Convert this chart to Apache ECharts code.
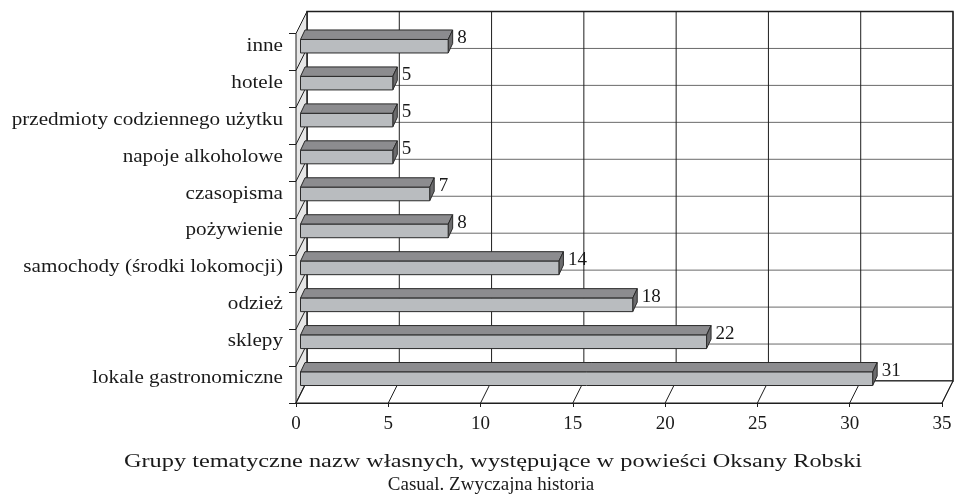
<!DOCTYPE html>
<html>
<head>
<meta charset="utf-8">
<script src="https://cdn.jsdelivr.net/npm/echarts@6/dist/echarts.min.js"></script>
<style>
  html, body { margin: 0; padding: 0; background: #fff; }
  #chart { width: 956px; height: 497px; }
</style>
</head>
<body>
<div id="chart"></div>
<script>
var categories = [
    'lokale gastronomiczne',
    'sklepy',
    'odzież',
    'samochody (środki lokomocji)',
    'pożywienie',
    'czasopisma',
    'napoje alkoholowe',
    'przedmioty codziennego użytku',
    'hotele',
    'inne'
];
var counts = [31, 22, 18, 14, 8, 7, 5, 5, 5, 8];
var xTicks = [0, 5, 10, 15, 20, 25, 30, 35];
var titleLines = [
    'Grupy tematyczne nazw własnych, występujące w powieści Oksany Robski',
    'Casual. Zwyczajna historia'
];

var FONT = '"Liberation Serif", "DejaVu Serif", serif';
// 3d depth of the whole plot (back wall offset) and of a bar
var DX = 11, DY = -22;
var BX = 4.5, BY = -9.5;
var LINE = '#1e1e1e';
var TEXT = '#1a1a1a';

var chart = echarts.init(document.getElementById('chart'));

function renderWalls(params, api) {
    var x0 = api.coord([0, 0])[0];
    var x1 = api.coord([35, 0])[0];
    var band = api.size([0, 1])[1];
    var yBot = api.coord([0, 0])[1] + band / 2;
    var yTop = api.coord([0, categories.length - 1])[1] - band / 2;
    var kids = [];
    var ln = { stroke: LINE, lineWidth: 1 };

    // back wall
    kids.push({ type: 'rect', shape: { x: x0 + DX, y: yTop + DY, width: x1 - x0, height: yBot - yTop },
        style: { fill: '#fff', stroke: LINE, lineWidth: 1.3 } });
    // left side wall
    kids.push({ type: 'polygon', shape: { points: [[x0, yTop], [x0 + DX, yTop + DY], [x0 + DX, yBot + DY], [x0, yBot]] },
        style: { fill: '#e6e6e6', stroke: LINE, lineWidth: 1 } });
    // floor
    kids.push({ type: 'polygon', shape: { points: [[x0, yBot], [x0 + DX, yBot + DY], [x1 + DX, yBot + DY], [x1, yBot]] },
        style: { fill: '#fff', stroke: LINE, lineWidth: 1 } });

    // horizontal grid on the back wall + diagonals on the side wall
    for (var i = 1; i < categories.length; i++) {
        var yb = yBot - i * band;
        kids.push({ type: 'line', shape: { x1: x0 + DX, y1: yb + DY, x2: x1 + DX, y2: yb + DY },
            style: { stroke: '#6a6a6a', lineWidth: 1 } });
        kids.push({ type: 'line', shape: { x1: x0, y1: yb, x2: x0 + DX, y2: yb + DY }, style: ln });
    }
    // vertical grid on the back wall + diagonals on the floor
    xTicks.forEach(function (v) {
        var x = api.coord([v, 0])[0];
        kids.push({ type: 'line', shape: { x1: x + DX, y1: yTop + DY, x2: x + DX, y2: yBot + DY }, style: ln });
        kids.push({ type: 'line', shape: { x1: x, y1: yBot, x2: x + DX, y2: yBot + DY }, style: ln });
    });

    // category labels (the scan is stretched sideways)
    categories.forEach(function (name, i) {
        var c = api.coord([0, i]);
        kids.push({ type: 'text', x: x0 - 13, y: c[1] - 6, scaleX: 1.175,
            style: { text: name, font: '18px ' + FONT, fill: TEXT, align: 'right', verticalAlign: 'middle' } });
    });
    return { type: 'group', children: kids };
}

function renderBar(params, api) {
    var v = api.value(0);
    var c = api.value(1);
    var s = api.coord([0, c]);
    var e = api.coord([v, c]);
    var fx0 = s[0] + 4.5, fx1 = e[0] + 4.5;
    var fy0 = s[1] - 12.5, fy1 = s[1] + 1;
    var edge = { stroke: '#2a2a2a', lineWidth: 1 };
    return {
        type: 'group',
        children: [
            { type: 'polygon', shape: { points: [[fx0, fy0], [fx0 + BX, fy0 + BY], [fx1 + BX, fy0 + BY], [fx1, fy0]] },
                style: Object.assign({ fill: '#8c8c8f' }, edge) },
            { type: 'polygon', shape: { points: [[fx1, fy0], [fx1 + BX, fy0 + BY], [fx1 + BX, fy1 + BY], [fx1, fy1]] },
                style: Object.assign({ fill: '#6b6b6d' }, edge) },
            { type: 'rect', shape: { x: fx0, y: fy0, width: fx1 - fx0, height: fy1 - fy0 },
                style: Object.assign({ fill: '#b9bcbf' }, edge) },
            { type: 'text', x: fx1 + BX + 4.5, y: s[1] - 14,
                style: { text: String(v), font: '19px ' + FONT, fill: TEXT, verticalAlign: 'middle' } }
        ]
    };
}

var barData = counts.map(function (v, i) { return [v, i]; });

var option = {
    animation: false,
    grid: { left: 296, right: 14, top: 33.5, bottom: 94, containLabel: false },
    xAxis: {
        type: 'value', min: 0, max: 35, interval: 5,
        axisLine: { show: true, lineStyle: { color: LINE } },
        axisTick: { show: true, length: 4, lineStyle: { color: LINE } },
        splitLine: { show: false },
        axisLabel: { fontFamily: FONT, fontSize: 19, color: TEXT, margin: 12 }
    },
    yAxis: {
        type: 'category', data: categories,
        axisLine: { show: true, lineStyle: { color: LINE } },
        axisTick: { show: true, length: 7, lineStyle: { color: LINE } },
        axisLabel: { show: false }
    },
    graphic: [
        { type: 'text', x: 493, y: 462, scaleX: 1.28,
            style: { text: titleLines[0], font: '19px ' + FONT, fill: TEXT, align: 'center', verticalAlign: 'middle' } },
        { type: 'text', x: 491, y: 485,
            style: { text: titleLines[1], font: '19px ' + FONT, fill: TEXT, align: 'center', verticalAlign: 'middle' } }
    ],
    series: [
        { type: 'custom', renderItem: renderWalls, data: [[0, 0]], silent: true, z: 1, clip: false },
        { type: 'custom', renderItem: renderBar, data: barData, z: 2, clip: false }
    ]
};
chart.setOption(option);
</script>
</body>
</html>
